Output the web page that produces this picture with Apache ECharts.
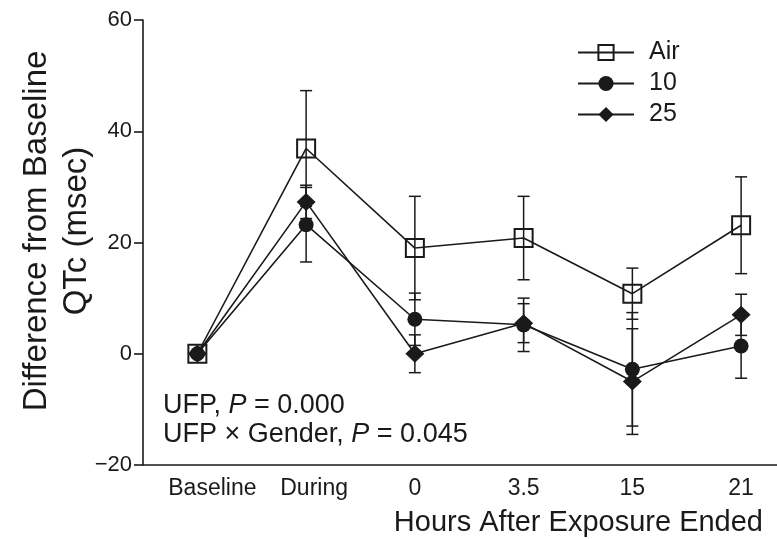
<!DOCTYPE html>
<html>
<head>
<meta charset="utf-8">
<script src="https://cdn.jsdelivr.net/npm/echarts@6/dist/echarts.min.js"></script>
<style>
html,body{margin:0;padding:0;background:#fff;}
#chart{width:777px;height:539px;}
</style>
</head>
<body>
<div id="chart"></div>
<script>
const categories = ['Baseline', 'During', '0', '3.5', '15', '21'];
const airMean  = [0, 36.9, 19.0, 20.8, 10.8, 23.1];
const airErr   = [0, 10.4, 9.3, 7.5, 4.6, 8.7];
const ufp10Mean = [0, 23.2, 6.2, 5.2, -2.8, 1.4];
const ufp10Err  = [0, 6.7, 4.7, 4.8, 10.2, 5.8];
const ufp25Mean = [0, 27.3, 0.0, 5.5, -5.0, 7.0];
const ufp25Err  = [0, 3.0, 3.4, 3.5, 9.5, 3.7];
const seriesNames = ['Air', '10', '25'];
const yMin = -20, yMax = 60, yStep = 20;

const FONT = "'Liberation Sans', Arial, Helvetica, sans-serif";
const INK = '#1a1a1a';

const catIdx = categories.map((c, i) => i);
const toPairs = mean => mean.map((m, i) => [i, m]);

function errData(mean, err) {
  const out = [];
  mean.forEach((m, i) => { if (err[i] > 0) out.push([i, m - err[i], m + err[i]]); });
  return out;
}

function renderErr(params, api) {
  const x = api.value(0);
  const lo = api.coord([x, api.value(1)]);
  const hi = api.coord([x, api.value(2)]);
  const w = 6;
  const st = { stroke: INK, lineWidth: 1.5 };
  return {
    type: 'group',
    children: [
      { type: 'line', shape: { x1: lo[0], y1: lo[1], x2: hi[0], y2: hi[1] }, style: st },
      { type: 'line', shape: { x1: lo[0] - w, y1: lo[1], x2: lo[0] + w, y2: lo[1] }, style: st },
      { type: 'line', shape: { x1: hi[0] - w, y1: hi[1], x2: hi[0] + w, y2: hi[1] }, style: st }
    ]
  };
}

const labelStyleKey = ['s0', 's1', 'n', 'n', 'n', 'n'];

const chart = echarts.init(document.getElementById('chart'), null, { renderer: 'canvas' });
const option = {
  backgroundColor: '#fff',
  animation: false,
  textStyle: { fontFamily: FONT, color: INK },
  grid: { left: 143, top: 20, right: 0, height: 445, containLabel: false },
  xAxis: {
    type: 'value',
    min: -0.5, max: 5.33,
    axisLine: { onZero: false, lineStyle: { color: INK, width: 1.6 } },
    axisTick: { show: false },
    axisLabel: {
      customValues: catIdx,
      fontSize: 23, color: INK, fontFamily: FONT, margin: 12,
      formatter: v => {
        const i = Math.round(v);
        return '{' + labelStyleKey[i] + '|' + categories[i] + '}';
      },
      rich: {
        s0: { fontSize: 23, color: INK, fontFamily: FONT, padding: [0, 0, 0, 30] },
        s1: { fontSize: 23, color: INK, fontFamily: FONT, padding: [0, 0, 0, 16] },
        n: { fontSize: 23, color: INK, fontFamily: FONT }
      }
    },
    splitLine: { show: false }
  },
  yAxis: {
    type: 'value',
    min: yMin, max: yMax, interval: yStep,
    axisLine: { show: true, onZero: false, lineStyle: { color: INK, width: 1.6 } },
    axisTick: { show: true, length: 9, lineStyle: { color: INK, width: 1.6 } },
    axisLabel: { fontSize: 22, color: INK, fontFamily: FONT, margin: 11,
      formatter: v => String(v).replace('-', '\u2212') },
    splitLine: { show: false }
  },
  legend: {
    data: seriesNames,
    orient: 'vertical',
    left: 572, top: 35,
    itemWidth: 56, itemHeight: 19, itemGap: 6,
    textStyle: { fontSize: 25, color: INK, fontFamily: FONT, padding: [0, 0, 0, 10] }
  },
  title: {
    text: 'Hours After Exposure Ended',
    right: 9, top: 503,
    textStyle: { fontSize: 29, fontWeight: 'normal', color: INK, fontFamily: FONT }
  },
  graphic: [
    {
      type: 'text', x: 57, y: 231, rotation: Math.PI / 2,
      style: { text: 'Difference from Baseline\nQTc (msec)', align: 'center', verticalAlign: 'middle',
        fontSize: 33, lineHeight: 40, fill: INK, fontFamily: FONT }
    },
    {
      type: 'text', left: 163, top: 392,
      style: { text: '{n|UFP, }{i|P}{n| = 0.000}', fill: INK, fontFamily: FONT,
        rich: { n: { fontSize: 27, fontFamily: FONT, color: INK }, i: { fontSize: 27, fontStyle: 'italic', fontFamily: FONT, color: INK } } }
    },
    {
      type: 'text', left: 163, top: 421,
      style: { text: '{n|UFP \u00d7 Gender, }{i|P}{n| = 0.045}', fill: INK, fontFamily: FONT,
        rich: { n: { fontSize: 27, fontFamily: FONT, color: INK }, i: { fontSize: 27, fontStyle: 'italic', fontFamily: FONT, color: INK } } }
    }
  ],
  series: [
    { name: 'errAir', type: 'custom', renderItem: renderErr, data: errData(airMean, airErr), z: 1, silent: true },
    { name: 'err10', type: 'custom', renderItem: renderErr, data: errData(ufp10Mean, ufp10Err), z: 1, silent: true },
    { name: 'err25', type: 'custom', renderItem: renderErr, data: errData(ufp25Mean, ufp25Err), z: 1, silent: true },
    {
      name: seriesNames[0], type: 'line', data: toPairs(airMean), z: 3,
      symbol: 'rect', symbolSize: 18, showAllSymbol: true,
      lineStyle: { color: INK, width: 1.6 },
      itemStyle: { color: 'rgba(255,255,255,0)', borderColor: INK, borderWidth: 2 }
    },
    {
      name: seriesNames[1], type: 'line', data: toPairs(ufp10Mean), z: 2,
      symbol: 'circle', symbolSize: 15, showAllSymbol: true,
      lineStyle: { color: INK, width: 1.6 },
      itemStyle: { color: INK, borderColor: INK, borderWidth: 0 }
    },
    {
      name: seriesNames[2], type: 'line', data: toPairs(ufp25Mean), z: 2,
      symbol: 'diamond', symbolSize: [19, 18], showAllSymbol: true,
      lineStyle: { color: INK, width: 1.6 },
      itemStyle: { color: INK, borderColor: INK, borderWidth: 0 }
    }
  ]
};
chart.setOption(option);
</script>
</body>
</html>
